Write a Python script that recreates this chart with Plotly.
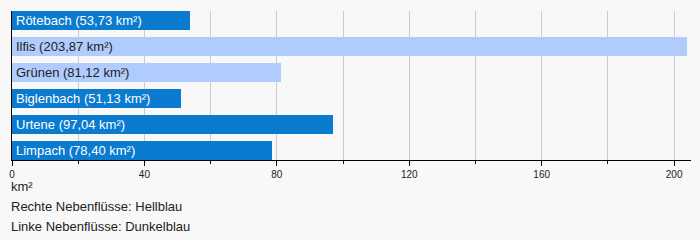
import plotly.graph_objects as go

names = ["Rötebach", "Ilfis", "Grünen", "Biglenbach", "Urtene", "Limpach"]
areas = [53.73, 203.87, 81.12, 51.13, 97.04, 78.40]
sides = ["links", "rechts", "rechts", "links", "links", "links"]
labels = [f"{n} ({f'{a:.2f}'.replace('.', ',')} km²)" for n, a in zip(names, areas)]
axis_title = "km²"
legend_lines = ["Rechte Nebenflüsse: Hellblau", "Linke Nebenflüsse: Dunkelblau"]

DARK = "#0a7bcf"
LIGHT = "#b0ccfd"
colors = [LIGHT if s == "rechts" else DARK for s in sides]
textcolors = ["#222222" if s == "rechts" else "#ffffff" for s in sides]

FONT = "Liberation Sans, Arial, sans-serif"
w = 0.73
n = len(names)
ypos = list(range(n))

fig = go.Figure()
fig.add_trace(go.Bar(
    x=areas, y=ypos, orientation="h", width=w,
    marker=dict(color=colors, line=dict(width=0)),
    hoverinfo="skip",
))

annotations = []
for i, (lab, tc) in enumerate(zip(labels, textcolors)):
    annotations.append(dict(x=0, y=i, xref="x", yref="y", text=lab, showarrow=False,
                            xanchor="left", yanchor="middle", xshift=2,
                            font=dict(family=FONT, size=13, color=tc)))
annotations.append(dict(x=0, y=0, xref="paper", yref="paper", text=axis_title, showarrow=False,
                        xanchor="left", yanchor="middle", yshift=-26, xshift=-3,
                        font=dict(family=FONT, size=13, color="#222")))
for k, line in enumerate(legend_lines):
    annotations.append(dict(x=0, y=0, xref="paper", yref="paper", text=line, showarrow=False,
                            xanchor="left", yanchor="middle", yshift=-46 - 20 * k, xshift=-3,
                            font=dict(family=FONT, size=13, color="#222")))

fig.update_layout(
    width=700, height=240,
    margin=dict(l=10, r=9, t=11, b=80),
    paper_bgcolor="#f8f8f8", plot_bgcolor="#f8f8f8",
    showlegend=False, bargap=0,
    annotations=annotations,
    xaxis=dict(range=[0, 205.1], tickvals=[0, 40, 80, 120, 160, 200],
               ticks="outside", ticklen=5, tickcolor="#000", tickwidth=1,
               showline=True, linecolor="#000", linewidth=1,
               showgrid=True, gridcolor="#cccccc", gridwidth=1, zeroline=False,
               tickfont=dict(family=FONT, size=10, color="#222"),
               minor=dict(tickvals=[20, 60, 100, 140, 180], ticks="outside", ticklen=3,
                          tickcolor="#000", showgrid=True, gridcolor="#cccccc", gridwidth=1)),
    yaxis=dict(range=[n - 1 + w / 2, -w / 2], showticklabels=False, showgrid=False,
               zeroline=False, showline=True, linecolor="#000", linewidth=1, ticks=""),
)

fig.write_html("out.html")
